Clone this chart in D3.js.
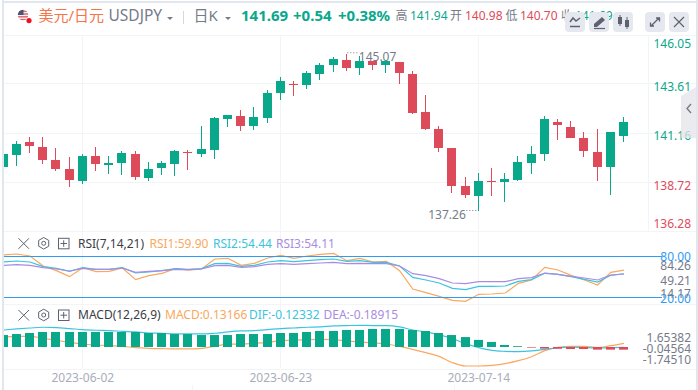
<!DOCTYPE html>
<html>
<head>
<meta charset="utf-8">
<script src="https://cdn.jsdelivr.net/npm/d3@7"></script>
<style>
html, body { margin: 0; padding: 0; background: #fff; overflow: hidden; }
svg { display: block; }
text { font-family: "Noto Sans", "Noto Sans CJK SC", sans-serif; }
</style>
</head>
<body>
<div id="chart"></div>
<script>
var dates = ["2023-05-25","2023-05-26","2023-05-29","2023-05-30","2023-05-31","2023-06-01","2023-06-02","2023-06-05","2023-06-06","2023-06-07","2023-06-08","2023-06-09",
  "2023-06-12","2023-06-13","2023-06-14","2023-06-15","2023-06-16","2023-06-19","2023-06-20","2023-06-21","2023-06-22","2023-06-23","2023-06-26","2023-06-27",
  "2023-06-28","2023-06-29","2023-06-30","2023-07-03","2023-07-04","2023-07-05","2023-07-06","2023-07-07","2023-07-10","2023-07-11","2023-07-12","2023-07-13",
  "2023-07-14","2023-07-17","2023-07-18","2023-07-19","2023-07-20","2023-07-21","2023-07-24","2023-07-25","2023-07-26","2023-07-27","2023-07-28","2023-07-31"];
var dateTicks = ["2023-06-02", "2023-06-23", "2023-07-14"];

var opens = [139.45,140.05,140.69,140.45,139.80,139.35,138.76,139.99,139.55,139.65,140.10,138.91,139.40,139.60,140.20,140.10,140.30,141.83,141.98,141.49,141.88,143.12,143.57,143.52,
  144.07,144.51,144.76,144.36,144.71,144.51,144.66,144.07,142.18,141.34,140.40,138.51,138.01,138.76,138.71,138.81,139.65,140.10,141.69,141.44,140.89,140.20,139.45,140.98];
var highs = [140.10,140.74,140.94,140.94,140.40,139.95,140.10,140.45,139.99,140.25,140.25,139.70,139.75,140.30,140.30,141.49,141.93,142.03,142.28,142.43,143.27,143.92,143.72,144.21,
  144.61,144.91,145.07,144.96,144.71,144.71,144.66,144.21,143.02,141.49,140.40,138.96,139.16,139.40,139.16,139.99,140.49,141.98,141.83,141.74,141.19,141.34,141.19,141.94];
var lows = [139.45,139.50,140.15,139.60,139.25,138.46,138.61,139.25,139.11,139.06,138.81,138.76,139.06,139.01,139.30,139.95,139.85,141.44,141.24,141.29,141.64,142.78,142.97,143.32,
  143.77,144.16,144.21,144.02,144.26,144.12,143.57,142.08,141.29,140.20,138.16,137.91,137.26,138.01,137.72,138.76,139.11,139.75,140.79,140.89,139.95,138.76,138.06,140.70];
var closes = [140.10,140.59,140.49,139.80,139.35,138.81,139.99,139.60,139.65,140.15,138.96,139.35,139.65,140.25,140.15,140.35,141.88,142.03,141.49,141.93,143.12,143.72,143.52,144.12,
  144.51,144.81,144.36,144.71,144.51,144.71,144.12,142.13,141.34,140.40,138.51,138.06,138.76,138.71,138.86,139.70,140.10,141.83,141.54,140.89,140.25,139.45,141.19,141.69];
var priceTicks = [146.05, 143.61, 141.16, 138.72, 136.28];

var rsi1 = [81.9,83.37,80.44,65.81,58.98,50.2,63.37,57.5,58,62.88,45.81,51.66,55.08,61.9,59.9,61.42,76.05,77.03,66.78,69.71,77.52,81.42,77.03,80.44,
  82.88,84.26,73.61,77.03,71.66,72.6,58.98,32.15,26.78,21.42,15.56,14.17,24.34,24.83,26.3,40.44,45.32,63.86,59.95,52.15,45.32,38,56.54,59.90];
var rsi2 = [71.66,73.1,71.66,64.83,62.39,58,63.37,60.93,60.93,63.37,55.56,57.03,58.98,61.9,60.93,61.9,69.22,69.71,65.32,66.78,71.66,73.61,72.15,73.61,
  75.08,76.05,72.6,73.61,71.17,71.17,65.81,49.22,45.32,40.93,33.13,31.17,36.05,36.05,36.54,43.37,45.81,55.08,53.61,50.2,46.3,42.39,52.15,54.44];
var rsi3 = [66.78,67.76,66.78,63.37,61.42,58.49,62.39,60.93,60.93,62.88,56.54,58,58.98,60.93,60.44,61.42,66.3,66.78,63.86,64.83,68.25,69.22,68.25,69.22,
  70.2,71.17,69.22,69.71,69.22,69.22,65.81,54.59,51.66,47.27,40.93,39.96,42.88,42.88,42.88,47.27,48.73,55.56,53.61,50.68,48.25,45.32,52.64,54.11];
var rsiBands = [80, 20];
var rsiTicks = ["84.26", "49.21", "14.17"];

var macdBars = [-0.59,-0.64,-0.69,-0.74,-0.74,-0.74,-0.74,-0.74,-0.74,-0.74,-0.74,-0.69,-0.69,-0.64,-0.64,-0.59,-0.59,-0.59,-0.64,-0.64,-0.64,-0.69,-0.69,-0.74,
  -0.79,-0.79,-0.84,-0.84,-0.89,-0.89,-0.89,-0.84,-0.79,-0.69,-0.59,-0.49,-0.35,-0.25,-0.10,-0.04,0.03,0.08,0.08,0.10,0.10,0.13,0.13,0.13166];
var macdOrange = [0.68,0.73,0.73,0.57,0.40,0.23,0.07,0.01,-0.05,-0.10,-0.21,-0.27,-0.30,-0.32,-0.32,-0.27,-0.10,0.09,0.09,0.15,0.23,0.37,0.40,0.46,
  0.48,0.46,0.34,0.26,0.18,0.09,-0.10,-0.35,-0.63,-0.94,-1.47,-1.745,-1.745,-1.69,-1.55,-1.30,-0.97,-0.46,-0.19,-0.10,-0.10,-0.21,-0.05,0.15];
var macdCyan = [1.26,1.35,1.43,1.49,1.46,1.38,1.29,1.24,1.21,1.15,1.10,1.01,0.99,0.93,0.93,0.93,0.99,1.10,1.18,1.21,1.29,1.38,1.43,1.49,
  1.52,1.60,1.63,1.654,1.63,1.63,1.52,1.26,1.10,0.85,0.54,0.12,-0.21,-0.44,-0.52,-0.55,-0.49,-0.35,-0.24,-0.16,-0.21,-0.24,-0.21,-0.19];
var macdTicks = ["1.65382", "-0.04564", "-1.74510"];

var width = 698, height = 390;
var teal = "#0aa88b", red = "#dd4b5a", grey = "#767b8a", gridColor = "#f2f4f8";
var orange = "#f9a860", cyan = "#3cc4de", purple = "#a98ce2", blue = "#2f9cf3";
var plotLeft = 4, plotRight = 648, axisRight = 691;

var svg = d3.select("#chart").append("svg").attr("width", width).attr("height", height);

var x = d3.scalePoint().domain(dates).range([3.1, 623.5]);
var y = d3.scaleLinear().domain([136.28, 146.05]).range([231, 34]);
var yRsi = d3.scaleLinear().domain([20, 80]).range([297.3, 256.3]);
var yMacd = d3.scaleLinear().domain([-1.7451, 1.65382]).range([366, 325.3]);
var yBar = d3.scaleLinear().domain([0, 0.13166]).range([347, 349.67]);
var yRsiLabel = d3.scaleOrdinal().domain(rsiTicks).range([265.7, 281, 293.3]);
var yMacdLabel = d3.scaleOrdinal().domain(macdTicks).range([337.7, 349, 359.7]);

svg.append("defs").append("clipPath").attr("id", "plotClip").append("rect")
    .attr("x", plotLeft).attr("y", 0).attr("width", plotRight - plotLeft).attr("height", height);

// frame
svg.append("rect").attr("x", 2).attr("y", 0).attr("width", 2).attr("height", height).attr("fill", "#e2e7ef");
svg.append("rect").attr("x", 2).attr("y", 1).attr("width", 694).attr("height", 2).attr("fill", "#e2e7ef");
svg.append("rect").attr("x", 696).attr("y", 0).attr("width", 2).attr("height", height).attr("fill", "#e2e7ef");

// grid
var grid = svg.append("g").attr("stroke", gridColor).attr("fill", "none");
[35, y(priceTicks[1]), y(priceTicks[2]), y(priceTicks[3]), 231, 304, 368.5].forEach(function(gy) {
  grid.append("line").attr("x1", plotLeft).attr("x2", 696)
      .attr("y1", Math.round(gy) + 0.5).attr("y2", Math.round(gy) + 0.5);
});
dateTicks.forEach(function(d) {
  grid.append("line").attr("x1", Math.floor(x(d)) + 0.5).attr("x2", Math.floor(x(d)) + 0.5).attr("y1", 35).attr("y2", 368);
});
grid.append("line").attr("x1", plotRight + 0.5).attr("x2", plotRight + 0.5).attr("y1", 35).attr("y2", 232);
[192, 454].forEach(function(tx) {
  grid.append("line").attr("x1", tx + 0.5).attr("x2", tx + 0.5).attr("y1", 385).attr("y2", height);
});

var plot = svg.append("g").attr("clip-path", "url(#plotClip)");

// candles
var candle = plot.selectAll(".candle").data(dates).enter().append("g")
    .attr("class", "candle")
    .attr("fill", function(d, i) { return closes[i] >= opens[i] ? teal : red; })
    .attr("stroke", function(d, i) { return closes[i] >= opens[i] ? teal : red; });
candle.append("line")
    .attr("x1", function(d) { return Math.floor(x(d)) + 0.5; })
    .attr("x2", function(d) { return Math.floor(x(d)) + 0.5; })
    .attr("y1", function(d, i) { return Math.round(y(highs[i])); })
    .attr("y2", function(d, i) { return Math.round(y(lows[i])); });
candle.append("rect")
    .attr("stroke", "none")
    .attr("x", function(d) { return Math.floor(x(d)) - 4; })
    .attr("width", 9)
    .attr("y", function(d, i) { return Math.round(y(Math.max(opens[i], closes[i]))); })
    .attr("height", function(d, i) {
      return Math.max(1, Math.round(y(Math.min(opens[i], closes[i]))) - Math.round(y(Math.max(opens[i], closes[i]))));
    });

// rsi
function drawLine(values, scale, color, curve) {
  var line = d3.line()
      .x(function(d, i) { return x(dates[i]) + 0.5; })
      .y(function(d) { return scale(d); });
  if (curve) line.curve(curve);
  plot.append("path").datum(values)
      .attr("fill", "none").attr("stroke", color).attr("stroke-width", 1.2)
      .attr("d", line);
}
drawLine(rsi1, yRsi, orange);
drawLine(rsi2, yRsi, cyan);
drawLine(rsi3, yRsi, purple);

rsiBands.forEach(function(b) {
  svg.append("line").attr("x1", plotLeft).attr("x2", 662)
      .attr("y1", Math.round(yRsi(b)) + 0.5).attr("y2", Math.round(yRsi(b)) + 0.5)
      .attr("stroke", blue);
});

// macd
drawLine(macdOrange, yMacd, orange, d3.curveMonotoneX);
drawLine(macdCyan, yMacd, cyan, d3.curveMonotoneX);
plot.selectAll(".macdBar").data(macdBars).enter().append("rect")
    .attr("class", "macdBar")
    .attr("x", function(d, i) { return Math.floor(x(dates[i])) - 4; })
    .attr("width", 9)
    .attr("y", function(d) { return Math.min(yBar(0), yBar(d)); })
    .attr("height", function(d) { return Math.abs(yBar(d) - yBar(0)); })
    .attr("fill", function(d) { return d < 0 ? teal : red; });

// price axis
var priceColors = [teal, teal, teal, red, red];
var priceShift = [9, 2.6, 3, 3.4, -7.7];
var priceAxis = svg.append("g")
    .attr("transform", "translate(" + axisRight + ",0)")
    .call(d3.axisRight(y).tickValues(priceTicks).tickSize(0).tickPadding(0).tickFormat(d3.format(".2f")));
priceAxis.select(".domain").remove();
priceAxis.selectAll("text")
    .attr("text-anchor", "end")
    .attr("font-size", 12)
    .attr("font-family", null)
    .attr("fill", function(d, i) { return priceColors[i]; })
    .attr("dy", function(d, i) { return (priceShift[i] + 4.2) + "px"; });

// date axis
var dateAxis = svg.append("g")
    .attr("transform", "translate(0,369)")
    .call(d3.axisBottom(x).tickValues(dateTicks).tickSize(0).tickPadding(4));
dateAxis.select(".domain").remove();
dateAxis.selectAll("text").attr("font-size", 12).attr("font-family", null).attr("fill", "#a9adba");

function label(px, py, txt, color, size, anchor, weight) {
  return svg.append("text").attr("x", px).attr("y", py).attr("dy", "0.35em")
      .attr("fill", color).attr("font-size", size)
      .attr("text-anchor", anchor || "start")
      .attr("font-weight", weight || "normal")
      .text(txt);
}

rsiBands.forEach(function(b) {
  label(axisRight, yRsi(b) + (b == 80 ? 0.4 : 1.4), b.toFixed(2), blue, 12, "end");
});
rsiTicks.forEach(function(t) { label(axisRight, yRsiLabel(t), t, grey, 12, "end"); });
macdTicks.forEach(function(t) { label(axisRight, yMacdLabel(t), t, grey, 12, "end"); });

// high / low markers
var hiIdx = d3.maxIndex(highs), loIdx = d3.minIndex(lows);
svg.append("line").attr("x1", x(dates[hiIdx]) + 1).attr("x2", x(dates[hiIdx]) + 12)
    .attr("y1", y(highs[hiIdx]) - 1).attr("y2", y(highs[hiIdx]) - 1)
    .attr("stroke", grey).attr("stroke-dasharray", "1,2");
label(x(dates[hiIdx]) + 12.5, 56.7, highs[hiIdx].toFixed(2), grey, 12);
svg.append("line").attr("x1", x(dates[loIdx]) - 12).attr("x2", x(dates[loIdx])).attr("y1", 210.5).attr("y2", 210.5)
    .attr("stroke", grey).attr("stroke-dasharray", "1,2");
label(x(dates[loIdx]) - 12.5, 214.3, lows[loIdx].toFixed(2), grey, 12, "end");

// header
var flag = svg.append("g");
svg.select("defs").append("clipPath").attr("id", "flagClip").append("circle").attr("cx", 23).attr("cy", 15).attr("r", 5.2);
var flagInner = flag.append("g").attr("clip-path", "url(#flagClip)");
flagInner.append("rect").attr("x", 17).attr("y", 9).attr("width", 12).attr("height", 12).attr("fill", "#f4f0f0");
d3.range(4).forEach(function(i) {
  flagInner.append("rect").attr("x", 17).attr("y", 10.5 + i * 2.8).attr("width", 12).attr("height", 1.4).attr("fill", "#d9606c");
});
flagInner.append("rect").attr("x", 17).attr("y", 9).attr("width", 6.5).attr("height", 6).attr("fill", "#4d5278");
flag.append("circle").attr("cx", 29).attr("cy", 20.6).attr("r", 2.6).attr("fill", "#f00f1e");

label(38.5, 16, "美元/日元", "#f5754b", 15);
label(108.5, 16, "USDJPY", grey, 15.5);
function caret(cx) {
  svg.append("path").attr("d", "M" + (cx - 3) + ",17 h6 l-3,3 z").attr("fill", grey);
}
caret(170);
svg.append("line").attr("x1", 183.5).attr("x2", 183.5).attr("y1", 11).attr("y2", 24).attr("stroke", "#d5d8df");
label(193.5, 16, "日K", grey, 15);
caret(228);
label(241, 16, "141.69", teal, 15, "start", "bold");
label(293, 16, "+0.54", teal, 15, "start", "bold");
label(338, 16, "+0.38%", teal, 15, "start", "bold");
label(395.5, 16, "高", grey, 12);
label(410, 16, "141.94", teal, 12);
label(450, 16, "开", grey, 12);
label(465, 16, "140.98", red, 12);
label(505.5, 16, "低", grey, 12);
label(520, 16, "140.70", red, 12);
label(561, 16, "收", grey, 12);
label(575, 16, "141.69", teal, 12);

// toolbar buttons
var btnX = [565, 589, 613, 645, 669];
btnX.forEach(function(bx) {
  svg.append("rect").attr("x", bx).attr("y", 12).attr("width", 20).attr("height", 20).attr("rx", 4).attr("fill", "#e6e8ef");
});
var iconColor = "#5e6270";
var icons = svg.append("g");
icons.append("path").attr("d", "M570,22 l3,-4 l3,3 l4,-3").attr("fill", "none").attr("stroke", iconColor).attr("stroke-width", 1.5);
icons.append("path").attr("d", "M570,26.5 h10").attr("stroke", iconColor).attr("stroke-width", 1.5);
icons.append("path").attr("d", "M594,24 l8,-7 l3,3 l-8,7 h-3 z").attr("fill", iconColor);
icons.append("path").attr("d", "M594,28.5 h11").attr("stroke", iconColor).attr("stroke-width", 1.2);
icons.append("rect").attr("x", 618).attr("y", 17).attr("width", 4).attr("height", 7).attr("fill", iconColor);
icons.append("rect").attr("x", 625).attr("y", 20).attr("width", 4).attr("height", 7).attr("fill", iconColor);
icons.append("path").attr("d", "M620,15 v11 M627,17 v12").attr("stroke", iconColor);
icons.append("path").attr("d", "M651,26 l8,-8 M656,18 h3.5 v3.5 M654,26 h-3.5 v-3.5").attr("fill", "none").attr("stroke", iconColor).attr("stroke-width", 1.3);
icons.append("path").attr("d", "M674,17 l10,10 M684,17 l-10,10").attr("fill", "none").attr("stroke", iconColor).attr("stroke-width", 1.2);

// side tab
svg.append("path").attr("d", "M696,87 v51 h-15 v-42 z").attr("fill", "#e4e4e9").attr("fill-opacity", 0.75);
svg.append("path").attr("d", "M691,104 l-4,4.5 l4,4.5").attr("fill", "none").attr("stroke", "#777b88").attr("stroke-width", 1.4);

// indicator headers
function toolIcons(cy) {
  var g = svg.append("g").attr("fill", "none").attr("stroke", "#5e6270");
  g.append("path").attr("d", "M18.5," + (cy - 5) + " l10.5,10.5 M29," + (cy - 5) + " l-10.5,10.5");
  g.append("path").attr("d", d3.range(7).map(function(i) {
    var a = Math.PI / 3 * i + Math.PI / 6;
    return (i ? "L" : "M") + (43.7 + 5.8 * Math.sin(a - Math.PI / 6)) + "," + (cy - 5.8 * Math.cos(a - Math.PI / 6));
  }).join("") + "Z");
  g.append("circle").attr("cx", 43.7).attr("cy", cy).attr("r", 2);
  g.append("rect").attr("x", 58.5).attr("y", cy - 5).attr("width", 10.5).attr("height", 10.5);
  g.append("path").attr("d", "M60.5," + (cy + 0.2) + " h6.5 M63.7," + (cy - 3) + " v6.5");
}
toolIcons(243.3);
toolIcons(315);
label(78, 243.3, "RSI(7,14,21)", "#3a3d46", 12);
label(149.5, 243.3, "RSI1:59.90", orange, 12);
label(213, 243.3, "RSI2:54.44", cyan, 12);
label(276, 243.3, "RSI3:54.11", purple, 12);
label(78, 315, "MACD(12,26,9)", "#3a3d46", 12);
label(165, 315, "MACD:0.13166", orange, 12);
label(249, 315, "DIF:-0.12332", cyan, 12);
label(323.5, 315, "DEA:-0.18915", purple, 12);
</script>
</body>
</html>
